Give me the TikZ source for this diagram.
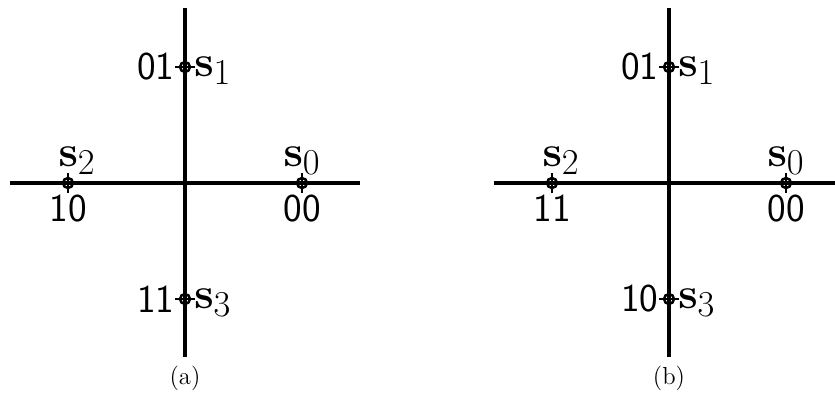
\documentclass[tikz,border=0pt]{standalone}
\usepackage{amsmath, amssymb}
\usepackage{tikz}
\usetikzlibrary{positioning}

\begin{document}
\begin{tikzpicture}[
    x=0.02cm, y=-0.02cm,
    axis/.style={line width=2pt},
    point/.style={draw, circle, line width=1.4pt, inner sep=0pt, minimum size=0.2cm},
    bits/.style={font=\sffamily\fontsize{22.5}{22.5}\selectfont, inner sep=1pt},
    sym/.style={font=\fontsize{30}{30}\selectfont, inner sep=1pt},
    caption/.style={font=\fontsize{14}{14}\selectfont}
]
\useasboundingbox (0,0) rectangle (835,400);

% panel (a)
\begin{scope}[shift={(185,183)}]
\coordinate (a-top) at (0,-175);
\coordinate (a-bot) at (0,174);
\coordinate (a-left) at (-175,0);
\coordinate (a-right) at (175,0);
\draw[axis] (a-top) -- (a-bot);
\draw[axis] (a-left) -- (a-right);

\node[point] (a-p0) at (117,0) {};
\node[point] (a-p1) at (0,-116) {};
\node[point] (a-p2) at (-117,0) {};
\node[point] (a-p3) at (0,116) {};

\node[sym, above=0cm of a-p0] (a-s0) {$\mathbf{s}_0$};
\node[sym, right=0.02cm of a-p1, yshift=-0.08cm] (a-s1) {$\mathbf{s}_1$};
\node[sym, above=0cm of a-p2, xshift=0.18cm] (a-s2) {$\mathbf{s}_2$};
\node[sym, right=0.02cm of a-p3, yshift=-0.08cm] (a-s3) {$\mathbf{s}_3$};

\node[bits, below=0.08cm of a-p0] (a-b0) {00};
\node[bits, left=0.05cm of a-p1] (a-b1) {01};
\node[bits, below=0.08cm of a-p2] (a-b2) {10};
\node[bits, left=0.05cm of a-p3] (a-b3) {11};

\node[caption] (a-cap) at (0,195) {(a)};
\end{scope}

% panel (b)
\begin{scope}[shift={(669,183)}]
\coordinate (b-top) at (0,-175);
\coordinate (b-bot) at (0,174);
\coordinate (b-left) at (-175,0);
\coordinate (b-right) at (166,0);
\draw[axis] (b-top) -- (b-bot);
\draw[axis] (b-left) -- (b-right);

\node[point] (b-p0) at (117,0) {};
\node[point] (b-p1) at (0,-116) {};
\node[point] (b-p2) at (-117,0) {};
\node[point] (b-p3) at (0,116) {};

\node[sym, above=0cm of b-p0] (b-s0) {$\mathbf{s}_0$};
\node[sym, right=0.02cm of b-p1, yshift=-0.08cm] (b-s1) {$\mathbf{s}_1$};
\node[sym, above=0cm of b-p2, xshift=0.18cm] (b-s2) {$\mathbf{s}_2$};
\node[sym, right=0.02cm of b-p3, yshift=-0.08cm] (b-s3) {$\mathbf{s}_3$};

\node[bits, below=0.08cm of b-p0] (b-b0) {00};
\node[bits, left=0.05cm of b-p1] (b-b1) {01};
\node[bits, below=0.08cm of b-p2] (b-b2) {11};
\node[bits, left=0.05cm of b-p3] (b-b3) {10};

\node[caption] (b-cap) at (0,195) {(b)};
\end{scope}

% crosses through the points
\foreach \p in {a-p0,a-p1,a-p2,a-p3,b-p0,b-p1,b-p2,b-p3} {
  \draw[line width=1.4pt] ([yshift=0.07cm]\p.north) -- ([yshift=-0.07cm]\p.south);
  \draw[line width=1.4pt] ([xshift=-0.07cm]\p.west) -- ([xshift=0.07cm]\p.east);
}

\end{tikzpicture}
\end{document}
